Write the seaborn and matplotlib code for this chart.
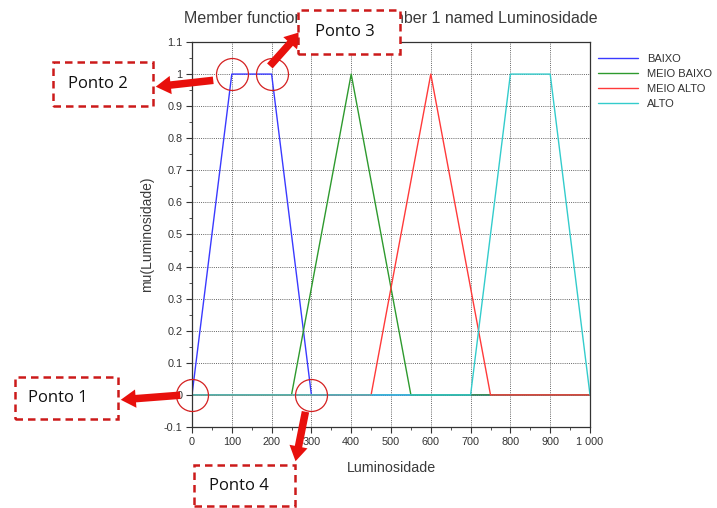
import matplotlib
matplotlib.use("Agg")
import matplotlib.pyplot as plt
import seaborn as sns
import pandas as pd
from matplotlib.patches import Rectangle, FancyArrowPatch
from matplotlib.ticker import MultipleLocator

# ---- data ----
x_baixo = [0, 100, 200, 300, 1000]
y_baixo = [0, 1, 1, 0, 0]
x_meio_baixo = [0, 250, 400, 550, 1000]
y_meio_baixo = [0, 0, 1, 0, 0]
x_meio_alto = [0, 450, 600, 750, 1000]
y_meio_alto = [0, 0, 1, 0, 0]
x_alto = [0, 700, 800, 900, 1000]
y_alto = [0, 0, 1, 1, 0]
series_names = ["BAIXO", "MEIO BAIXO", "MEIO ALTO", "ALTO"]
colors = ["#3a3aff", "#2e9a2e", "#ff3a3a", "#33cccc"]

x_ticks = [0, 100, 200, 300, 400, 500, 600, 700, 800, 900, 1000]
x_tick_labels = ["0", "100", "200", "300", "400", "500", "600", "700", "800", "900", "1 000"]
y_ticks = [-0.1, 0, 0.1, 0.2, 0.3, 0.4, 0.5, 0.6, 0.7, 0.8, 0.9, 1, 1.1]
y_tick_labels = ["-0.1", "0", "0.1", "0.2", "0.3", "0.4", "0.5", "0.6", "0.7", "0.8", "0.9", "1", "1.1"]

title = "Member functions of input number 1 named Luminosidade"
xlabel = "Luminosidade"
ylabel = "mu(Luminosidade)"

ponto_labels = ["Ponto 1", "Ponto 2", "Ponto 3", "Ponto 4"]
ponto_x = [0, 100, 200, 300]
ponto_y = [0, 1, 1, 0]

frames = []
for name, xs, ys in zip(series_names,
                        [x_baixo, x_meio_baixo, x_meio_alto, x_alto],
                        [y_baixo, y_meio_baixo, y_meio_alto, y_alto]):
    frames.append(pd.DataFrame({"x": xs, "y": ys, "set": name}))
df = pd.concat(frames, ignore_index=True)

# ---- figure ----
sns.set_theme(style="white")
plt.rcParams["font.family"] = ["Liberation Sans", "DejaVu Sans"]

W, H = 717, 508
fig = plt.figure(figsize=(W / 100, H / 100), dpi=100)
ax = fig.add_axes([192 / W, 1 - 427 / H, (590 - 192) / W, (427 - 42) / H])

sns.lineplot(data=df, x="x", y="y", hue="set", hue_order=series_names,
             palette=colors, estimator=None, sort=False, linewidth=1.0,
             ax=ax, legend=True)

ax.set_xlim(0, 1000)
ax.set_ylim(-0.1, 1.1)
ax.set_xticks(x_ticks)
ax.set_xticklabels(x_tick_labels)
ax.set_yticks(y_ticks)
ax.set_yticklabels(y_tick_labels)
ax.xaxis.set_minor_locator(MultipleLocator(50))
ax.yaxis.set_minor_locator(MultipleLocator(0.05))
ax.tick_params(axis="both", which="major", direction="out", length=4, width=0.8,
               color="#333333", labelsize=7.8, labelcolor="#333333", pad=3,
               bottom=True, left=True)
ax.tick_params(axis="both", which="minor", direction="out", length=2, width=0.6,
               color="#333333", bottom=True, left=True)
ax.grid(True, which="major", linestyle=(0, (1, 1.2)), color="#666666", linewidth=0.7)
for s in ax.spines.values():
    s.set_color("#333333")
    s.set_linewidth(0.9)

ax.set_title(title, fontsize=11.5, color="#3a3a3a", pad=14)
ax.set_xlabel(xlabel, fontsize=10.3, color="#3a3a3a", labelpad=10)
ax.set_ylabel(ylabel, fontsize=10, color="#3a3a3a", labelpad=7)

leg = ax.legend(loc="upper left", bbox_to_anchor=(1.0, 0.99), frameon=False,
                fontsize=8, handlelength=3.6, handletextpad=0.8,
                labelspacing=0.45, borderaxespad=0.3)
for t in leg.get_texts():
    t.set_color("#333333")

# ---- annotations ----
ax.plot(ponto_x, ponto_y, linestyle="none", marker="o", markersize=23,
        markerfacecolor="none", markeredgecolor="#d42020", markeredgewidth=0.9,
        clip_on=False, zorder=5)

def fx(px):
    return px / W

def fy(py):
    return 1 - py / H

boxes = [(15, 377, 118, 419), (53, 62, 153, 106), (298, 10, 400, 54), (194, 465, 295, 506)]
text_x = [28, 68, 315, 209]
arrows = [((183, 395), (118, 400)), ((216, 80), (153, 87)),
          ((268, 68), (302, 30)), ((306, 409), (295, 464))]

for lab, (x0, y0, x1, y1), tx, ((ax0, ay0), (ax1, ay1)) in zip(ponto_labels, boxes, text_x, arrows):
    arr = FancyArrowPatch((fx(ax0), fy(ay0)), (fx(ax1), fy(ay1)), transform=fig.transFigure,
                          arrowstyle="simple,head_width=1.1,head_length=0.9,tail_width=0.45",
                          mutation_scale=12, color="#e8100c", lw=0, zorder=6)
    fig.add_artist(arr)
    rect = Rectangle((fx(x0), fy(y1)), fx(x1) - fx(x0), fy(y0) - fy(y1),
                     transform=fig.transFigure, facecolor="white", edgecolor="#cc1a1a",
                     linewidth=1.8, linestyle=(0, (3, 2)), zorder=7)
    fig.add_artist(rect)
    fig.text(fx(tx), fy((y0 + y1) / 2), lab, fontsize=12, family=["Open Sans", "DejaVu Sans"],
             color="#111111", ha="left", va="center", zorder=8)

fig.savefig("out.png", dpi=100)
